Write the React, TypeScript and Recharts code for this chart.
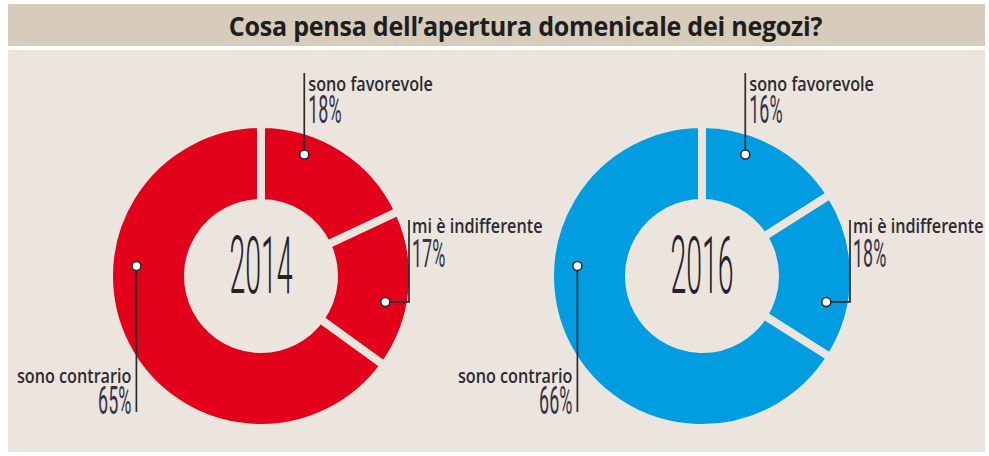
import { Pie, PieChart } from "recharts";

// Data
const categories = ["sono favorevole", "mi è indifferente", "sono contrario"];
const years = ["2014", "2016"];
const values2014 = [18, 17, 65];
const values2016 = [16, 18, 66];

const pieColors = ["#e2001a", "#009ee0"];
const pieCenters = [261, 702];
const BG = "#ebe5de";
const INK = "#2a2a2e";

// where each leader dot / text sits, relative to the pie centre
const LABEL_LAYOUT = [
    { dotAngle: 19.6, dotR: 129, kind: "up", lineEnd: -203, textDx: 4, nameDy: -185, pctDy: -153 },
    { dotAngle: 101.8, dotR: 127, kind: "elbow", elbowX: 148, lineEnd: -56, textDx: 151, nameDy: -43, pctDy: -9 },
    { dotAngle: 274.6, dotR: 125, kind: "down", lineEnd: 136, textDx: -5, nameDy: 107, pctDy: 138 },
];

const NAME_SCALE = 0.81;
const PCT_SCALE = 0.46;

const makeLabel = (year: string) => (props: any) => {
    const { cx, cy, index, name, value } = props;
    const L = LABEL_LAYOUT[index];
    const a = (L.dotAngle * Math.PI) / 180;
    const dx = cx + L.dotR * Math.sin(a);
    const dy = cy - L.dotR * Math.cos(a);

    let path = "";
    let tx = 0;
    let anchor: "start" | "end" = "start";
    if (L.kind === "up") {
        path = `M${dx},${dy} V${cy + L.lineEnd}`;
        tx = dx + L.textDx;
    } else if (L.kind === "elbow") {
        const ex = cx + (L.elbowX ?? 0);
        path = `M${dx},${dy} H${ex} V${cy + L.lineEnd}`;
        tx = cx + L.textDx;
    } else {
        path = `M${dx},${dy} V${cy + L.lineEnd}`;
        tx = dx + L.textDx;
        anchor = "end";
    }

    return (
        <g>
            {index === 0 && (
                <text
                    transform={`translate(${cx},${cy + 17}) scale(0.36,1)`}
                    textAnchor="middle"
                    fontFamily="Roboto, sans-serif"
                    fontWeight={300}
                    fontSize={79}
                    fill="#222228"
                >
                    {year}
                </text>
            )}
            <path d={path} stroke={INK} strokeWidth={1.7} fill="none" />
            <circle cx={dx} cy={dy} r={4.5} fill="#ffffff" stroke={INK} strokeWidth={1.5} />
            <text
                transform={`translate(${tx},${cy + L.nameDy}) scale(${NAME_SCALE},1)`}
                textAnchor={anchor}
                fontFamily="'Open Sans', sans-serif"
                fontWeight={600}
                fontSize={20}
                fill="#2b2b33"
            >
                {name}
            </text>
            <text
                transform={`translate(${tx},${cy + L.pctDy}) scale(${PCT_SCALE},1)`}
                textAnchor={anchor}
                fontFamily="Roboto, sans-serif"
                fontWeight={400}
                fontSize={39}
                fill="#34344c"
            >
                {`${value}%`}
            </text>
        </g>
    );
};

export default function App() {
    const series = [values2014, values2016];

    return (
        <div style={{ position: "absolute", left: 0, top: 0, width: 989, height: 456, background: "#ffffff", overflow: "hidden" }}>
            <div
                style={{
                    position: "absolute",
                    left: 8,
                    top: 4,
                    width: 977,
                    height: 42,
                    background: "#d7cbbb",
                }}
            />
            <div
                style={{
                    position: "absolute",
                    left: 31,
                    top: 5,
                    width: 989,
                    height: 42,
                    lineHeight: "42px",
                    textAlign: "center",
                    fontFamily: "'Open Sans', sans-serif",
                    fontWeight: 700,
                    fontSize: 27,
                    color: "#1e1e1e",
                    letterSpacing: -0.3,
                    transform: "scaleX(0.93)",
                }}
            >
                Cosa pensa dell’apertura domenicale dei negozi?
            </div>
            <div
                style={{
                    position: "absolute",
                    left: 8,
                    top: 50,
                    width: 977,
                    height: 402,
                    background: BG,
                }}
            />
            <div style={{ position: "absolute", left: 0, top: 0 }}>
                <PieChart width={989} height={456} margin={{ top: 0, right: 0, bottom: 0, left: 0 }}>
                    {years.map((year, k) => (
                        <Pie
                            key={year}
                            data={categories.map((name, i) => ({ name, value: series[k][i] }))}
                            dataKey="value"
                            nameKey="name"
                            cx={pieCenters[k]}
                            cy={276}
                            innerRadius={73}
                            outerRadius={152}
                            startAngle={90}
                            endAngle={-270}
                            fill={pieColors[k]}
                            stroke={BG}
                            strokeWidth={8}
                            label={makeLabel(year)}
                            labelLine={false}
                            isAnimationActive={false}
                        />
                    ))}
                </PieChart>
            </div>
        </div>
    );
}
